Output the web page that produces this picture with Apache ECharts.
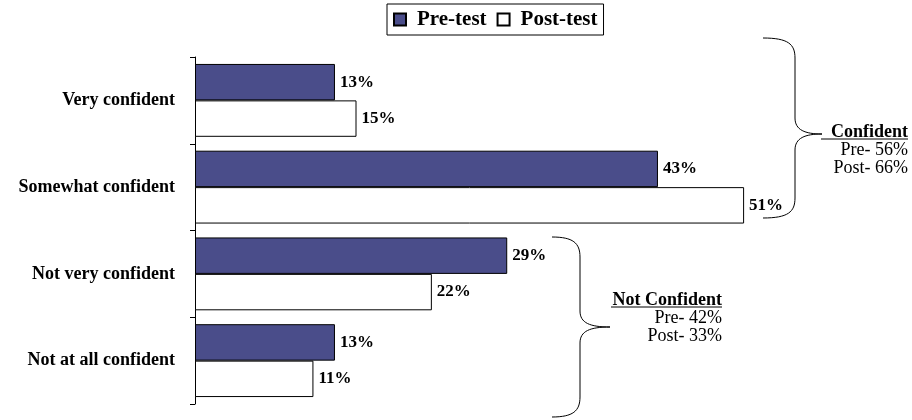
<!DOCTYPE html>
<html><head><meta charset="utf-8">
<script src="https://cdn.jsdelivr.net/npm/echarts@6/dist/echarts.min.js"></script>
<style>html,body{margin:0;padding:0;background:#fff}#c{width:912px;height:420px}</style>
</head><body><div id="c"></div>
<script>
const categories = ['Very confident', 'Somewhat confident', 'Not very confident', 'Not at all confident'];
const preTest = [13, 43, 29, 13];
const postTest = [15, 51, 22, 11];
const seriesNames = ['Pre-test', 'Post-test'];
const groupConfident = ['Confident', 'Pre- 56%', 'Post- 66%'];
const groupNotConfident = ['Not Confident', 'Pre- 42%', 'Post- 33%'];

const FONT = '"Liberation Serif","Times New Roman",serif';
const ST = {stroke: '#000', lineWidth: 1, fill: 'none'};
// brace: x0 = open end x, xv = vertical line x, xt = tip x, y0 top, ym tip y, y1 bottom
function brace(x0, xv, xt, y0, ym, y1) {
  const r = 20;
  return [
    {type: 'bezierCurve', shape: {x1: x0, y1: y0, cpx1: xv - 7, cpy1: y0, cpx2: xv, cpy2: y0 + 6, x2: xv, y2: y0 + r}, style: ST},
    {type: 'line', shape: {x1: xv, y1: y0 + r, x2: xv, y2: ym - 16}, style: ST},
    {type: 'bezierCurve', shape: {x1: xv, y1: ym - 16, cpx1: xv, cpy1: ym - 4, cpx2: xv + 10, cpy2: ym, x2: xt, y2: ym}, style: ST},
    {type: 'bezierCurve', shape: {x1: xt, y1: ym, cpx1: xv + 10, cpy1: ym, cpx2: xv, cpy2: ym + 4, x2: xv, y2: ym + 16}, style: ST},
    {type: 'line', shape: {x1: xv, y1: ym + 16, x2: xv, y2: y1 - r}, style: ST},
    {type: 'bezierCurve', shape: {x1: xv, y1: y1 - r, cpx1: xv, cpy1: y1 - 6, cpx2: xv - 7, cpy2: y1, x2: x0, y2: y1}, style: ST}
  ];
}
function groupText(lines, xr, yTop, ulWidth) {
  return [
    {type: 'text', x: xr, y: yTop, style: {text: lines[0], fontFamily: FONT, fontWeight: 'bold', fontSize: 18, fill: '#000', align: 'right', verticalAlign: 'top'}},
    {type: 'line', shape: {x1: xr - ulWidth, y1: yTop + 16, x2: xr, y2: yTop + 16}, style: ST},
    {type: 'text', x: xr, y: yTop + 18, style: {text: lines[1], fontFamily: FONT, fontSize: 18, fill: '#000', align: 'right', verticalAlign: 'top'}},
    {type: 'text', x: xr, y: yTop + 36, style: {text: lines[2], fontFamily: FONT, fontSize: 18, fill: '#000', align: 'right', verticalAlign: 'top'}}
  ];
}

const chart = echarts.init(document.getElementById('c'));
const lbl = {show: true, position: 'right', distance: 5, formatter: '{c}%', fontFamily: FONT, fontWeight: 'bold', fontSize: 17, color: '#000'};
chart.setOption({
  animation: false,
  legend: {
    left: 387, top: 4, padding: [5, 6, 5, 6],
    borderColor: '#000', borderWidth: 1, itemGap: 10,
    itemWidth: 12, itemHeight: 12, icon: 'rect',
    textStyle: {fontFamily: FONT, fontWeight: 'bold', fontSize: 21, color: '#000', padding: [0, 0, 0, 6]},
    data: seriesNames
  },
  grid: {left: 195, right: 71, top: 57, bottom: 16},
  xAxis: {type: 'value', min: 0, max: 60, show: false},
  yAxis: {
    type: 'category', data: categories, inverse: true,
    axisLine: {lineStyle: {color: '#000', width: 1}},
    axisTick: {show: true, length: 5, lineStyle: {color: '#000'}},
    axisLabel: {fontFamily: FONT, fontWeight: 'bold', fontSize: 18, color: '#000', margin: 20}
  },
  series: [
    {name: seriesNames[0], type: 'bar', data: preTest, barGap: '0%', barCategoryGap: '16%',
     itemStyle: {color: '#4a4d8a', borderColor: '#000', borderWidth: 1}, label: lbl},
    {name: seriesNames[1], type: 'bar', data: postTest,
     itemStyle: {color: '#fff', borderColor: '#000', borderWidth: 1}, label: lbl}
  ],
  graphic: [].concat(
    brace(763, 795, 822, 38, 134, 218),
    brace(552, 580, 610, 237, 327, 417),
    groupText(groupConfident, 908, 123, 87),
    groupText(groupNotConfident, 722, 291, 111)
  )
});
</script></body></html>
